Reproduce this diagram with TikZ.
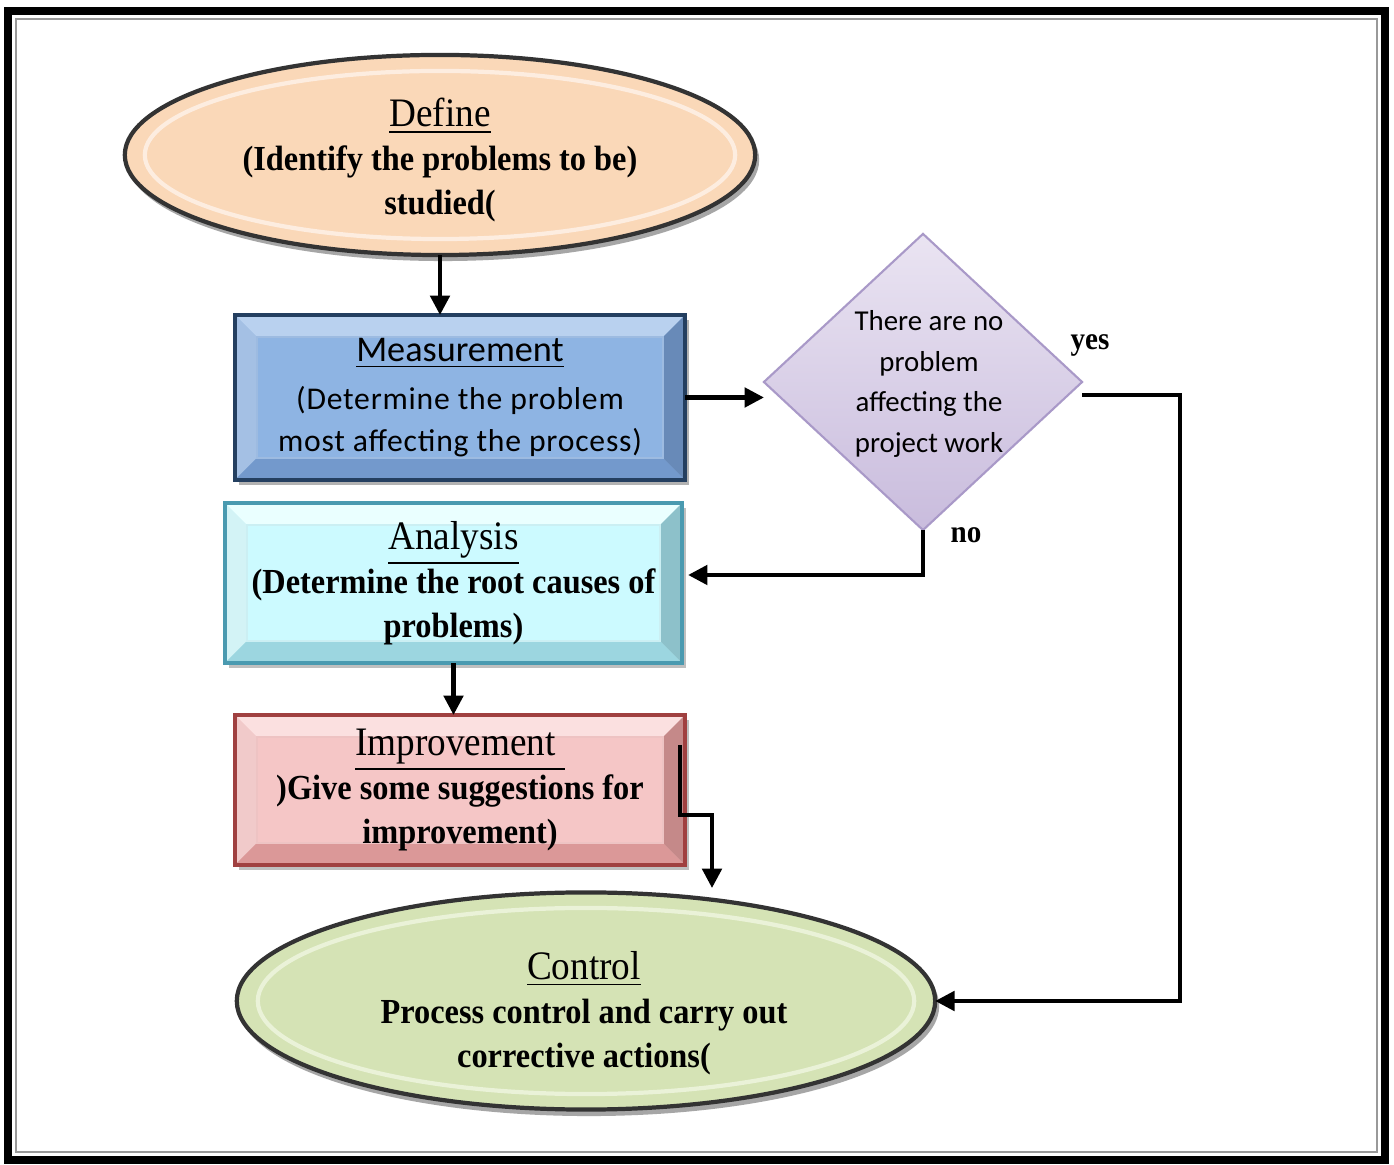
\documentclass[tikz,border=0pt]{standalone}
\usepackage{fontspec}
\setmainfont{Liberation Serif}
\newfontfamily\serc[FakeStretch=0.92]{Liberation Serif}
\newfontfamily\calf[LetterSpace=2.5]{Carlito}
\newfontfamily\calg{Carlito}
\usetikzlibrary{shapes.geometric,arrows.meta,backgrounds,calc}
\definecolor{defc}{HTML}{FAD8B8}
\definecolor{defl}{HTML}{FDEDE0}
\definecolor{measc}{HTML}{8EB4E3}
\definecolor{measl}{HTML}{B9D1EF}
\definecolor{measd}{HTML}{7399CC}
\definecolor{measo}{HTML}{243F60}
\definecolor{analc}{HTML}{CCFAFF}
\definecolor{anall}{HTML}{EAFFFF}
\definecolor{anald}{HTML}{9CD6E0}
\definecolor{analo}{HTML}{4A9AB0}
\definecolor{impc}{HTML}{F5C6C6}
\definecolor{impl}{HTML}{FBE0E0}
\definecolor{impd}{HTML}{DB9898}
\definecolor{impo}{HTML}{A04040}
\definecolor{diat}{HTML}{EAE4F2}
\definecolor{diab}{HTML}{C9BCDD}
\definecolor{diao}{HTML}{A999C8}
\definecolor{ctrlc}{HTML}{D5E3B5}
\definecolor{ctrll}{HTML}{EAF2D8}
\newcommand\bevelfaces[5]{%
  \fill[#2] (#1.north west) -- (#1.north east) -- ($(#1.north east)+(-#5,#5)$) -- ($(#1.north west)+(#5,#5)$) -- cycle;
  \fill[#2!70!#3] (#1.north west) -- (#1.south west) -- ($(#1.south west)+(#5,-#5)$) -- ($(#1.north west)+(#5,#5)$) -- cycle;
  \fill[#3] (#1.south west) -- (#1.south east) -- ($(#1.south east)+(-#5,-#5)$) -- ($(#1.south west)+(#5,-#5)$) -- cycle;
  \fill[#3!90!black] (#1.north east) -- (#1.south east) -- ($(#1.south east)+(-#5,-#5)$) -- ($(#1.north east)+(-#5,#5)$) -- cycle;
  \draw[#2!60!#3, line width=0.4pt] ($(#1.north west)+(#5,#5)$) rectangle ($(#1.south east)+(-#5,-#5)$);
}
\tikzset{
  boxnode/.style={rectangle, inner sep=0pt, outer sep=0pt, align=center, line width=1.1pt},
  ellnode/.style={ellipse, inner sep=0pt, outer sep=0pt, draw=black!80, line width=1.2pt},
  bodytext/.style={font=\serc\bfseries\fontsize{10}{12.5}\selectfont, align=center, inner sep=0pt},
  conn/.style={line width=1.15pt, -{Triangle[length=5.5pt,width=5.5pt]}},
  lbl/.style={font=\serc\bfseries\fontsize{9}{11}\selectfont, inner sep=0pt}
}
\newcommand\headA[1]{{\serc\mdseries\fontsize{11.5}{12.5}\selectfont\underline{#1}}}
\begin{document}
\begin{tikzpicture}[x=0.01cm,y=-0.01cm]
\useasboundingbox (0,0) rectangle (1394,1165);
\begin{scope}[on background layer]
\fill[white] (0,0) rectangle (1394,1165);
\end{scope}
% frame
\draw[black, line width=2.1pt] (8,11) rectangle (1385,1160);
\draw[black!40, line width=0.8pt] (16,19) rectangle (1377,1152);

% Define ellipse
\node[ellnode, fill=defc, minimum width=6.3cm, minimum height=2.0cm] (def) at (440,155) {};
\begin{scope}[on background layer]
  \fill[black!35] ($(def.center)+(3,5)$) ellipse [x radius=3.16cm, y radius=1.01cm];
\end{scope}
\draw[defl, line width=1.2pt] (def.center) ellipse [x radius=2.95cm, y radius=0.84cm];
\node[bodytext] (deftxt) at (440,160) {\headA{Define}\\(Identify the problems to be)\\studied(};

% Measurement
\node[boxnode, draw=measo, minimum width=4.5cm, minimum height=1.65cm] (meas) at (460,397.5)
  {{\calg\fontsize{10.3}{12.5}\selectfont\underline{Measurement}}\\[1.5pt]
   {\calf\fontsize{9}{12.2}\selectfont(Determine the problem}\\
   {\calf\fontsize{9}{12.2}\selectfont most affecting the process)}};
\begin{scope}[on background layer]
  \fill[black!30] ($(meas.north west)+(4,5)$) rectangle ($(meas.south east)+(4,5)$);
  \fill[measc] (meas.north west) rectangle (meas.south east);
  \bevelfaces{meas}{measl}{measd}{measo}{22}
\end{scope}

% Analysis
\node[boxnode, draw=analo, minimum width=4.57cm, minimum height=1.6cm, bodytext] (anal) at (453.5,583)
  {\headA{Analysis}\\(Determine the root causes of\\problems)};
\begin{scope}[on background layer]
  \fill[black!25] ($(anal.north west)+(4,5)$) rectangle ($(anal.south east)+(4,5)$);
  \fill[analc] (anal.north west) rectangle (anal.south east);
  \bevelfaces{anal}{anall}{anald}{analo}{22}
\end{scope}

% Improvement
\node[boxnode, draw=impo, minimum width=4.5cm, minimum height=1.5cm, bodytext] (imp) at (460,790)
  {\headA{Improvement\ }\\)Give some suggestions for\\improvement)};
\begin{scope}[on background layer]
  \fill[black!25] ($(imp.north west)+(4,5)$) rectangle ($(imp.south east)+(4,5)$);
  \fill[impc] (imp.north west) rectangle (imp.south east);
  \bevelfaces{imp}{impl}{impd}{impo}{22}
\end{scope}

% Decision diamond
\node[diamond, aspect=1.07, inner sep=0pt, outer sep=0pt, minimum width=3.18cm, minimum height=2.96cm,
      top color=diat, bottom color=diab, draw=diao, line width=0.6pt] (dia) at (923,382) {};
\node[align=center, inner sep=0pt, font=\calg\fontsize{8.2}{11.6}\selectfont] (diatxt) at (929,384)
  {There are no\\problem\\affecting the\\project work};

% Control ellipse
\node[ellnode, fill=ctrlc, minimum width=6.98cm, minimum height=2.17cm] (ctrl) at (586,1001) {};
\begin{scope}[on background layer]
  \fill[black!35] ($(ctrl.center)+(3,5)$) ellipse [x radius=3.5cm, y radius=1.1cm];
\end{scope}
\draw[ctrll, line width=1.2pt] (ctrl.center) ellipse [x radius=3.28cm, y radius=0.93cm];
\node[bodytext] (ctrltxt) at (584,1013) {\headA{Control}\\Process control and carry out\\corrective actions(};

% connectors
\coordinate (yesturn) at (1180,395);
\coordinate (ctrltop) at (712,888);
\coordinate (noend) at ($(anal.east)+(6,-8)$);
\draw[conn] (def.south) -- (def.south |- meas.north);
\draw[conn] (meas.east) -- (meas.east -| dia.west);
\draw[conn] (dia.east |- yesturn) -- (yesturn) |- (ctrl.east);
\draw[conn] (dia.south) |- (noend);
\draw[conn] (anal.south) -- (anal.south |- imp.north);
\draw[conn] ($(imp.north east)+(-5,30)$) -- ++(0,70) -| (ctrltop);

% labels
\node[lbl] (yeslbl) at (1090,345) {yes};
\node[lbl] (nolbl) at (966,535) {no};
\end{tikzpicture}
\end{document}
